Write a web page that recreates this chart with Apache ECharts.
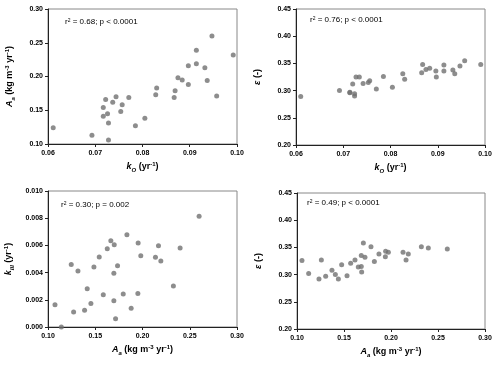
<!DOCTYPE html>
<html>
<head>
<meta charset="utf-8">
<script src="https://cdn.jsdelivr.net/npm/echarts@6/dist/echarts.min.js"></script>
<style>
  html, body { margin: 0; padding: 0; background: #fff; }
  #chart { width: 500px; height: 368px; }
</style>
</head>
<body>
<div id="chart"></div>
<script>
// panel 1: Aa vs kO
let ko1 = [0.0611, 0.0693, 0.0728, 0.0717, 0.0717, 0.0722, 0.0726, 0.0728, 0.0737, 0.0744,
           0.0754, 0.0757, 0.0771, 0.0785, 0.0805, 0.0828, 0.0830, 0.0867, 0.0869, 0.0875,
           0.0884, 0.0897, 0.0897, 0.0914, 0.0914, 0.0932, 0.0937, 0.0947, 0.0957, 0.0992];
let aa1 = [0.124, 0.113, 0.106, 0.154, 0.141, 0.166, 0.145, 0.131, 0.162, 0.170,
           0.148, 0.158, 0.169, 0.127, 0.138, 0.173, 0.183, 0.169, 0.179, 0.198,
           0.195, 0.216, 0.188, 0.219, 0.239, 0.213, 0.194, 0.260, 0.171, 0.232];

// panel 2: epsilon vs kO
let ko2 = [0.0610, 0.0692, 0.0714, 0.0714, 0.0720, 0.0724, 0.0724, 0.0727, 0.0734, 0.0742,
           0.0753, 0.0756, 0.0770, 0.0785, 0.0804, 0.0826, 0.0830, 0.0866, 0.0868, 0.0875,
           0.0883, 0.0896, 0.0897, 0.0913, 0.0913, 0.0932, 0.0936, 0.0947, 0.0957, 0.0991];
let eps2 = [0.289, 0.300, 0.297, 0.296, 0.312, 0.294, 0.290, 0.325, 0.325, 0.313,
            0.315, 0.318, 0.303, 0.326, 0.306, 0.331, 0.321, 0.333, 0.348, 0.339,
            0.341, 0.336, 0.325, 0.336, 0.347, 0.338, 0.331, 0.345, 0.355, 0.348];

// panel 3: kIII vs Aa
let aa3 = [0.1074, 0.1141, 0.1246, 0.1271, 0.1317, 0.1387, 0.1415, 0.1454, 0.1486, 0.1542,
           0.1585, 0.1627, 0.1665, 0.1697, 0.1697, 0.1701, 0.1715, 0.1736, 0.1796, 0.1835,
           0.1880, 0.1951, 0.1954, 0.1982, 0.2137, 0.2169, 0.2194, 0.2327, 0.2398, 0.2599];
let kiii3 = [0.00163, 0.00000, 0.00459, 0.00110, 0.00412, 0.00124, 0.00281, 0.00173, 0.00442, 0.00515,
             0.00237, 0.00576, 0.00634, 0.00193, 0.00395, 0.00605, 0.00061, 0.00451, 0.00242, 0.00678,
             0.00137, 0.00246, 0.00617, 0.00524, 0.00512, 0.00598, 0.00485, 0.00302, 0.00581, 0.00815];

// panel 4: epsilon vs Aa
let aa4 = [0.1053, 0.1124, 0.1234, 0.1259, 0.1305, 0.1372, 0.1408, 0.1440, 0.1475, 0.1532,
           0.1571, 0.1617, 0.1652, 0.1684, 0.1688, 0.1684, 0.1706, 0.1723, 0.1787, 0.1823,
           0.1872, 0.1940, 0.1943, 0.1972, 0.2128, 0.2160, 0.2184, 0.2323, 0.2397, 0.2599];
let eps4 = [0.326, 0.302, 0.292, 0.327, 0.297, 0.308, 0.300, 0.292, 0.318, 0.298,
            0.321, 0.327, 0.314, 0.315, 0.305, 0.335, 0.358, 0.332, 0.351, 0.324,
            0.338, 0.333, 0.343, 0.341, 0.341, 0.327, 0.338, 0.351, 0.349, 0.347];

let notes = ['r{sup|2} = 0.68; p < 0.0001', 'r{sup|2} = 0.76; p < 0.0001',
             'r{sup|2} = 0.30; p = 0.002', 'r{sup|2} = 0.49; p < 0.0001'];

let nameRich = {
    i: { fontStyle: 'italic', fontWeight: 'bold', fontSize: 9, fontFamily: 'Liberation Sans' },
    sub: { fontStyle: 'italic', fontWeight: 'bold', fontSize: 6, verticalAlign: 'bottom', fontFamily: 'Liberation Sans' },
    sup: { fontWeight: 'bold', fontSize: 6, verticalAlign: 'top', fontFamily: 'Liberation Sans' }
};
let nameStyle = { fontSize: 9, fontWeight: 'bold', color: '#000', fontFamily: 'Liberation Sans', lineHeight: 12, rich: nameRich };

let kOName = '{i|k}{sub|O} (yr{sup|-1})';
let aaName = '{i|A}{sub|a} (kg m{sup|-3} yr{sup|-1})';
let kIIIName = '{i|k}{sub|III} (yr{sup|-1})';
let epsName = '{i|ε} (-)';

function zip(a, b) {
    return a.map((v, i) => [v, b[i]]);
}

function makeAxis(gridIndex, min, max, interval, digits, name, nameGap, isY) {
    return {
        type: 'value',
        gridIndex: gridIndex,
        min: min,
        max: max,
        interval: interval,
        name: name,
        nameLocation: 'middle',
        nameGap: nameGap,
        nameRotate: isY ? 90 : 0,
        nameTextStyle: nameStyle,
        axisLine: { show: true, onZero: false, lineStyle: { color: '#222', width: 1 } },
        axisTick: { show: true, inside: false, length: 3, lineStyle: { color: '#222' } },
        axisLabel: {
            fontSize: 7, fontWeight: 'bold', color: '#000', fontFamily: 'Liberation Sans',
            margin: isY ? 5 : 6,
            formatter: (v) => v.toFixed(digits)
        },
        splitLine: { show: false }
    };
}

let chart = echarts.init(document.getElementById('chart'));
let grids = [
    { left: 48, top: 9, width: 189, height: 135 },
    { left: 296, top: 9, width: 189, height: 136 },
    { left: 48, top: 191, width: 189, height: 136 },
    { left: 297, top: 193, width: 188, height: 136 }
];
let option = {
    animation: false,
    backgroundColor: '#fff',
    grid: grids.map((g) => Object.assign({ show: true, borderColor: '#888', borderWidth: 1 }, g)),
    xAxis: [
        makeAxis(0, 0.06, 0.10, 0.01, 2, kOName, 17, false),
        makeAxis(1, 0.06, 0.10, 0.01, 2, kOName, 17, false),
        makeAxis(2, 0.10, 0.30, 0.05, 2, aaName, 17, false),
        makeAxis(3, 0.10, 0.30, 0.05, 2, aaName, 17, false)
    ],
    yAxis: [
        makeAxis(0, 0.10, 0.30, 0.05, 2, aaName, 32, true),
        makeAxis(1, 0.20, 0.45, 0.05, 2, epsName, 32, true),
        makeAxis(2, 0, 0.010, 0.002, 3, kIIIName, 33, true),
        makeAxis(3, 0.20, 0.45, 0.05, 2, epsName, 32, true)
    ],
    series: [
        zip(ko1, aa1), zip(ko2, eps2), zip(aa3, kiii3), zip(aa4, eps4)
    ].map((d, i) => ({
        type: 'scatter',
        xAxisIndex: i,
        yAxisIndex: i,
        data: d,
        symbolSize: 5,
        itemStyle: { color: '#707070' }
    })),
    graphic: [[65, 24], [310, 22], [61, 207], [307, 205]].map((p, i) => ({
        type: 'text',
        left: p[0],
        top: p[1] - 6,
        style: {
            text: notes[i],
            fontSize: 8,
            fontFamily: 'Liberation Sans',
            fill: '#000',
            rich: { sup: { fontSize: 5, verticalAlign: 'top', fontFamily: 'Liberation Sans' } }
        }
    }))
};
chart.setOption(option);
</script>
</body>
</html>
